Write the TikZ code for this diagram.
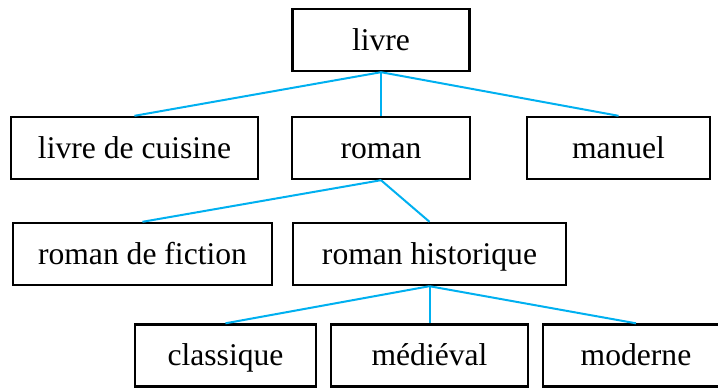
\documentclass[tikz,border=0pt]{standalone}
\usepackage{fontspec}
\setmainfont{Liberation Serif}
\definecolor{bleulien}{RGB}{0,176,240}
\tikzset{
  boite/.style={draw, line width=1.2pt, minimum height=31pt, inner sep=0pt,
    text height=13pt, text depth=3pt, font=\fontsize{15.8}{19}\selectfont},
  lien/.style={draw=bleulien, line width=1pt}
}
\begin{document}
\begin{tikzpicture}[x=0.5pt,y=-0.5pt]
\useasboundingbox (0,0) rectangle (718,387);
\clip (0,0) rectangle (718,387);
% racine
\node [boite, minimum width=88.5pt] (livre) at (381,40) {livre};
% deuxieme rang
\node [boite, minimum width=123.5pt] (cuisine) at (134.5,148) {livre de cuisine};
\node [boite, minimum width=89pt] (roman) at (381,148) {roman};
\node [boite, minimum width=91.5pt] (manuel) at (618.5,148) {manuel};
% troisieme rang
\node [boite, minimum width=129.5pt] (fiction) at (142.5,254) {roman de fiction};
\node [boite, minimum width=136.5pt] (historique) at (429.5,254) {roman historique};
% dernier rang
\node [boite, minimum width=90.5pt] (classique) at (225.5,355.5) {classique};
\node [boite, minimum width=98.5pt] (medieval) at (429.5,355.5) {médiéval};
\node [boite, minimum width=93pt] (moderne) at (636,355.5) {moderne};
% liens
\draw[lien] (livre.south) -- (cuisine.north);
\draw[lien] (livre.south) -- (roman.north);
\draw[lien] (livre.south) -- (manuel.north);
\draw[lien] (roman.south) -- (fiction.north);
\draw[lien] (roman.south) -- (historique.north);
\draw[lien] (historique.south) -- (classique.north);
\draw[lien] (historique.south) -- (medieval.north);
\draw[lien] (historique.south) -- (moderne.north);
\end{tikzpicture}
\end{document}
